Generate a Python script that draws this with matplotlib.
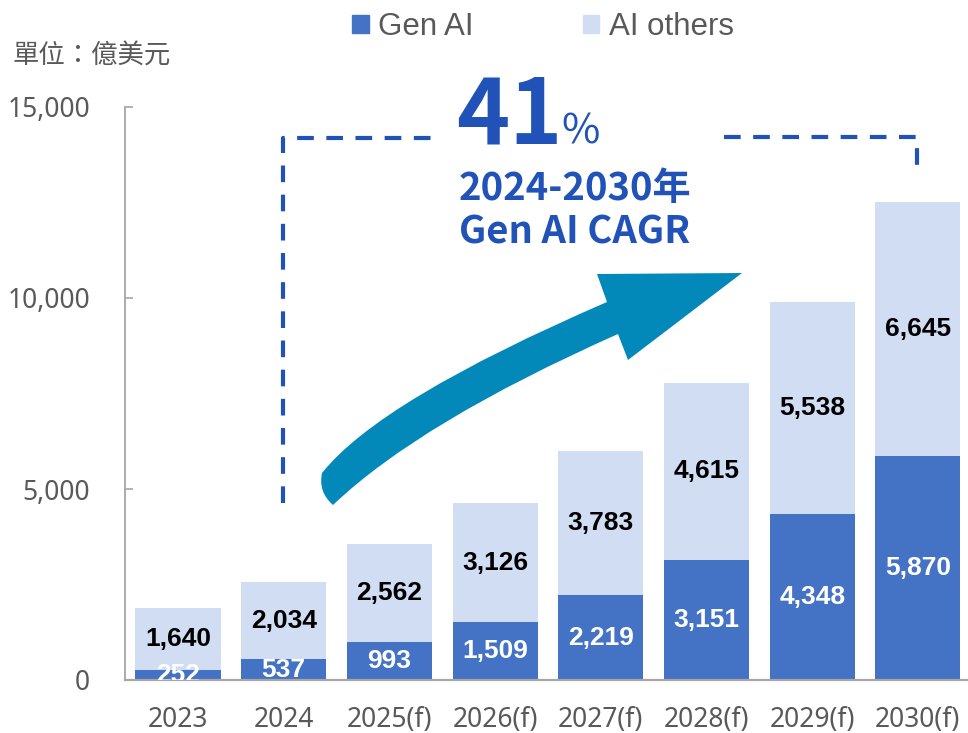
import numpy as np
import matplotlib
matplotlib.use("Agg")
import matplotlib.pyplot as plt
from matplotlib.path import Path
from matplotlib.patches import PathPatch, Patch

years = ['2023', '2024', '2025(f)', '2026(f)', '2027(f)', '2028(f)', '2029(f)', '2030(f)']
gen_ai = [252, 537, 993, 1509, 2219, 3151, 4348, 5870]
ai_others = [1640, 2034, 2562, 3126, 3783, 4615, 5538, 6645]

c_gen = '#4472C4'
c_oth = '#D0DDF2'
c_txt = '#595959'
c_blue = '#2052B8'
c_arrow = '#0388BA'

W, H = 968, 733
fig = plt.figure(figsize=(W / 100, H / 100), dpi=100)
ax = fig.add_axes([125 / W, (H - 680) / H, (W - 125) / W, 573 / H])

x = np.arange(len(years))
ax.bar(x, gen_ai, width=0.805, color=c_gen, zorder=2)
ax.bar(x, ai_others, width=0.805, bottom=gen_ai, color=c_oth, zorder=2)

for i in range(len(years)):
    ax.text(x[i], gen_ai[i] / 2, f"{gen_ai[i]:,}", ha='center', va='center',
            color='white', fontsize=19, fontweight='bold', family='Liberation Sans',
            clip_on=True, zorder=3)
    ax.text(x[i], gen_ai[i] + ai_others[i] / 2, f"{ai_others[i]:,}", ha='center', va='center',
            color='black', fontsize=19, fontweight='bold', family='Liberation Sans', zorder=3)

ax.set_xlim(-0.501, 7.474)
ax.set_ylim(0, 15000)
ax.set_yticks([0, 5000, 10000, 15000])
ax.set_yticklabels([f"{v:,}" for v in [0, 5000, 10000, 15000]])
ax.set_xticks(x)
ax.set_xticklabels(years)
for s in ['top', 'right']:
    ax.spines[s].set_visible(False)
ax.spines['left'].set_color('#A6A6A6')
ax.spines['left'].set_linewidth(1.3)
ax.spines['bottom'].set_color('#A6A6A6')
ax.spines['bottom'].set_linewidth(1.6)
ax.tick_params(axis='y', direction='in', length=6, width=1.2, color='#A6A6A6',
               pad=25, labelsize=19, labelcolor=c_txt)
ax.tick_params(axis='x', length=0, pad=19, labelsize=19, labelcolor=c_txt)
for lab in ax.get_xticklabels() + ax.get_yticklabels():
    lab.set_family('Noto Sans')

handles = [Patch(color=c_gen, label='Gen AI'), Patch(color=c_oth, label='AI others')]
fig.legend(handles=handles, loc='center', bbox_to_anchor=(543 / W, 1 - 27 / H), ncol=2,
           frameon=False, handlelength=0.52, handleheight=0.52, handletextpad=0.3,
           columnspacing=3.5, prop={'family': 'Liberation Sans', 'size': 22.5},
           labelcolor=c_txt)

# overlay in pixel coordinates for annotations
ov = fig.add_axes([0, 0, 1, 1], facecolor='none')
ov.set_xlim(0, W)
ov.set_ylim(H, 0)
ov.axis('off')

ov.text(12, 56, '單位：億美元', ha='left', va='center', fontsize=19,
        family='Noto Sans CJK TC', color=c_txt)

# dashed bracket
dash = dict(color=c_blue, lw=3, linestyle=(0, (4, 3)), solid_capstyle='butt')
ov.plot([283, 283, 441], [503, 138, 138], **dash)
ov.plot([724, 917, 917], [137, 137, 175], **dash)

ov.text(456, 143, '41', ha='left', va='baseline', fontsize=65, fontweight='bold',
        family='Noto Sans CJK TC', color=c_blue)
ov.text(561, 143, '%', ha='left', va='baseline', fontsize=30,
        family='Noto Sans CJK TC', color=c_blue)
ov.text(459, 200, '2024-2030年', ha='left', va='baseline', fontsize=27.5, fontweight='bold',
        family='Noto Sans CJK TC', color=c_blue)
ov.text(459, 243, 'Gen AI CAGR', ha='left', va='baseline', fontsize=27.5, fontweight='bold',
        family='Noto Sans CJK TC', color=c_blue)

# curved arrow
verts = [(322, 473), (380, 400), (607, 302), (597, 274), (742, 273), (628, 360),
         (618, 334), (420, 422), (333, 505), (318, 492), (322, 473)]
codes = [Path.MOVETO, Path.CURVE3, Path.CURVE3, Path.LINETO, Path.LINETO, Path.LINETO,
         Path.LINETO, Path.CURVE3, Path.CURVE3, Path.CURVE3, Path.CURVE3]
ov.add_patch(PathPatch(Path(verts, codes), facecolor=c_arrow, edgecolor='none'))

fig.savefig('out.png', dpi=100)
